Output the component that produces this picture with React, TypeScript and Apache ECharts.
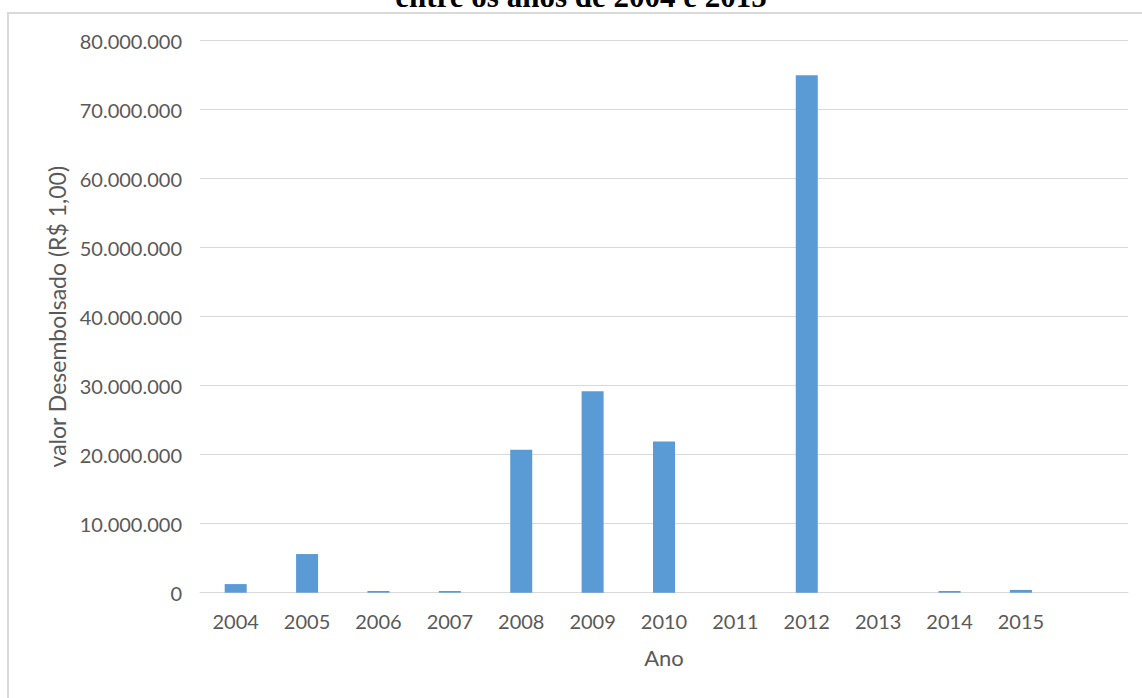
import React, { useEffect, useRef } from "react";
import * as echarts from "echarts";

// Disbursed amount per year, in R$ 1,00
const YEARS = ["2004", "2005", "2006", "2007", "2008", "2009", "2010", "2011", "2012", "2013", "2014", "2015"];
const VALUES = [1250000, 5600000, 250000, 250000, 20700000, 29200000, 21900000, 0, 75000000, 0, 250000, 400000];

const TITLE = "entre os anos de 2004 e 2015";
const Y_NAME = "valor Desembolsado (R$ 1,00)";
const X_NAME = "Ano";

const Y_MAX = 80000000;
const Y_STEP = 10000000;

const TEXT_GREY = "#595959";
const GRID_GREY = "#d9d9d9";
const BAR_BLUE = "#5B9BD5";
const FONT = "Lato, 'Open Sans', sans-serif";

// 10000000 -> "10.000.000"
const fmt = (v: number) => String(Math.round(v)).replace(/\B(?=(\d{3})+(?!\d))/g, ".");

export default function App() {
  const ref = useRef<HTMLDivElement>(null);

  useEffect(() => {
    if (!ref.current) return;
    const chart = echarts.init(ref.current, undefined, { renderer: "svg" });
    chart.setOption({
      animation: false,
      backgroundColor: "#ffffff",
      textStyle: { fontFamily: FONT },
      graphic: [
        {
          type: "rect",
          silent: true,
          shape: { x: 8, y: 13, width: 1200, height: 760 },
          style: { fill: "none", stroke: GRID_GREY, lineWidth: 2 },
        },
        {
          type: "text",
          x: 581,
          y: -3.5,
          silent: true,
          style: {
            text: TITLE,
            font: "bold 31px 'Liberation Serif', 'Times New Roman', serif",
            fill: "#000000",
            textAlign: "center",
            textVerticalAlign: "middle",
          },
        },
      ],
      grid: {
        left: 200,
        right: 14,
        top: 40.7,
        bottom: 105.3,
        containLabel: false,
        outerBoundsMode: "none",
      },
      xAxis: {
        type: "category",
        data: [...YEARS, ""],
        axisLine: { show: true, lineStyle: { color: GRID_GREY, width: 1 } },
        axisTick: { show: false },
        axisLabel: { color: TEXT_GREY, fontSize: 20, fontFamily: FONT, margin: 18 },
        name: X_NAME,
        nameLocation: "middle",
        nameGap: 54,
        nameTextStyle: { color: TEXT_GREY, fontSize: 22, fontFamily: FONT },
      },
      yAxis: {
        type: "value",
        min: 0,
        max: Y_MAX,
        interval: Y_STEP,
        axisLine: { show: false },
        axisTick: { show: false },
        axisLabel: {
          color: TEXT_GREY,
          fontSize: 20,
          fontFamily: FONT,
          margin: 18,
          formatter: (v: number) => fmt(v),
        },
        splitLine: { lineStyle: { color: GRID_GREY, width: 1 } },
        name: Y_NAME,
        nameLocation: "middle",
        nameRotate: 90,
        nameGap: 130,
        nameTextStyle: { color: TEXT_GREY, fontSize: 23, fontFamily: FONT },
      },
      series: [
        {
          type: "bar",
          data: VALUES,
          barWidth: 22,
          itemStyle: { color: BAR_BLUE },
        },
      ],
    });
    return () => chart.dispose();
  }, []);

  return (
    <div
      ref={ref}
      style={{ position: "fixed", left: 0, top: 0, width: 1142, height: 698, background: "#ffffff" }}
    />
  );
}
